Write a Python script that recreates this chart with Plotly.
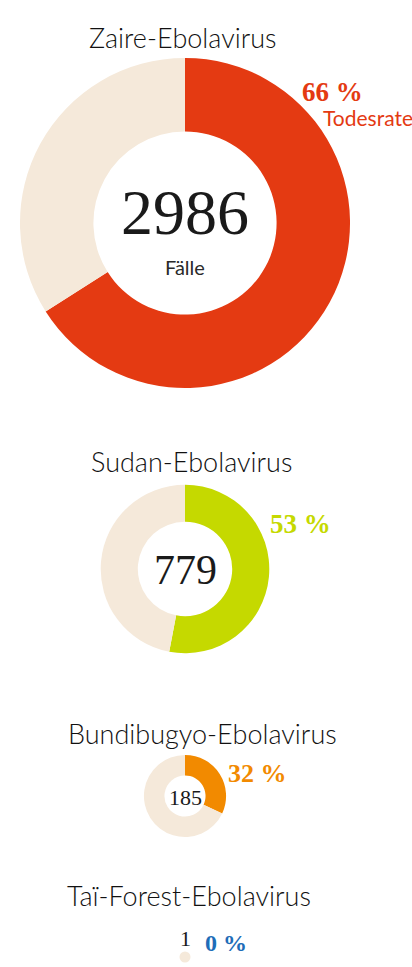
import plotly.graph_objects as go
import math

viruses = ["Zaire-Ebolavirus", "Sudan-Ebolavirus", "Bundibugyo-Ebolavirus", "Taï-Forest-Ebolavirus"]
cases = [2986, 779, 185, 1]
death_rates = [66, 53, 32, 0]
colors = ["#E43A12", "#C5D900", "#F28A00", "#1E6DB8"]
rest_color = "#F5E9DA"

W, H = 412, 967
cx = 185
centers_y = [223, 569, 796, 957]
title_y = [37, 462, 733, 895]
title_x = [183, 191, 202, 189]
holes = [0.555, 0.56, 0.5, 0.0]

fig = go.Figure()
annotations = []

def py(p):
    return 1 - p / H

for i, name in enumerate(viruses):
    r = max(3.02 * math.sqrt(cases[i]), 5.5)
    cy = centers_y[i]
    fig.add_trace(go.Pie(
        values=[death_rates[i], 100 - death_rates[i]],
        labels=["Todesrate", "Überlebt"],
        marker=dict(colors=[colors[i], rest_color], line=dict(width=0)),
        sort=False, direction="clockwise", rotation=0,
        hole=holes[i], textinfo="none", hoverinfo="skip", showlegend=False,
        domain=dict(x=[(cx - r) / W, (cx + r) / W], y=[py(cy + r), py(cy - r)]),
    ))
    annotations.append(dict(text=name, x=title_x[i] / W, y=py(title_y[i]),
                            font=dict(family="Lato", size=27, weight=300, color="#111111")))

# case numbers
annotations += [
    dict(text=str(cases[0]), x=cx / W, y=py(213), font=dict(family="Liberation Serif", size=64, color="#1a1a1a")),
    dict(text="Fälle", x=cx / W, y=py(267), font=dict(family="Lato", size=20, color="#2a2a2a")),
    dict(text=str(cases[1]), x=cx / W, y=py(570), font=dict(family="Liberation Serif", size=42, color="#1a1a1a")),
    dict(text=str(cases[2]), x=cx / W, y=py(797), font=dict(family="Liberation Serif", size=22, color="#1a1a1a")),
    dict(text=str(cases[3]), x=cx / W, y=py(938), font=dict(family="Liberation Serif", size=22, color="#1a1a1a")),
]
# percentages
pct_pos = [(300, 92), (268, 524), (226, 773), (203, 943)]
pct_size = [27, 27, 26, 24]
for i in range(4):
    annotations.append(dict(text=f"<b>{death_rates[i]} %</b>", x=pct_pos[i][0] / W, y=py(pct_pos[i][1]),
                            xanchor="left", font=dict(family="Liberation Serif", size=pct_size[i], color=colors[i])))
annotations.append(dict(text="Todesrate", x=321 / W, y=py(118), xanchor="left",
                        font=dict(family="Lato", size=21, color=colors[0])))

for a in annotations:
    a.setdefault("xref", "paper")
    a.setdefault("yref", "paper")
    a.setdefault("showarrow", False)
    a.setdefault("xanchor", "center")
    a.setdefault("yanchor", "middle")

fig.update_layout(width=W, height=H, margin=dict(l=0, r=0, t=0, b=0),
                  paper_bgcolor="white", plot_bgcolor="white", annotations=annotations)

fig.write_html("out.html", config={"displayModeBar": False},
               post_script="document.body.style.margin='0';document.body.style.overflow='hidden';")
